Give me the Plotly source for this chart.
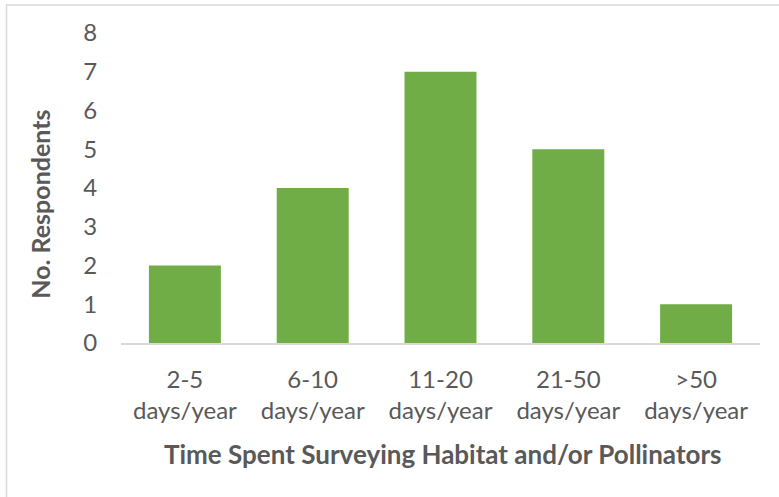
import plotly.graph_objects as go

categories = ["2-5<br>days/year", "6-10<br>days/year", "11-20<br>days/year", "21-50<br>days/year", ">50<br>days/year"]
respondents = [2, 4, 7, 5, 1]
y_ticks = [0, 1, 2, 3, 4, 5, 6, 7, 8]

FONT = "Lato"
TXT = "#595959"
OFF = 0  # body margin removed via post_script

fig = go.Figure(go.Bar(x=categories, y=respondents, marker=dict(color="#70AD47", line=dict(width=0)), width=0.563))

W, H = 779, 497
# target screen coordinates
SL, SR, ST, SB = 121, 760, 33, 343.5
L = SL - OFF
R = W - (SR - OFF)
T = ST - OFF
B = H - (SB - OFF)
pw, ph = W - L - R, H - T - B


def px_x(sx):
    return (sx - SL) / pw


def px_y(sy):
    return (SB - sy) / ph


fig.update_layout(
    width=W, height=H,
    margin=dict(l=L, r=R, t=T, b=B),
    paper_bgcolor="white", plot_bgcolor="white",
    font=dict(family=FONT, size=24, color=TXT),
    showlegend=False,
    bargap=0.437,
)
fig.update_xaxes(showline=True, linecolor="#D9D9D9", linewidth=1.5, showgrid=False,
                 ticks="outside", ticklen=14, tickcolor="rgba(0,0,0,0)",
                 tickfont=dict(family=FONT, size=24, color=TXT))
fig.update_yaxes(range=[0, 8], tickvals=y_ticks, showgrid=False, zeroline=False, showline=False,
                 ticks="outside", ticklen=18, tickcolor="rgba(0,0,0,0)",
                 tickfont=dict(family=FONT, size=24, color=TXT))

fig.add_annotation(text="<b>Time Spent Surveying Habitat and/or Pollinators</b>",
                   xref="paper", yref="paper", x=px_x(442.5), y=px_y(455),
                   showarrow=False, font=dict(family=FONT, size=26, color=TXT),
                   xanchor="center", yanchor="middle")
fig.add_annotation(text="<b>No. Respondents</b>",
                   xref="paper", yref="paper", x=px_x(40), y=px_y(205),
                   showarrow=False, textangle=-90, font=dict(family=FONT, size=25, color=TXT),
                   xanchor="center", yanchor="middle")

fig.add_shape(type="rect", xref="paper", yref="paper",
              x0=px_x(6.5), x1=px_x(W + 20),
              y0=px_y(H + 20), y1=px_y(5),
              line=dict(color="#D9D9D9", width=1.5), fillcolor="rgba(0,0,0,0)", layer="below")

fig.write_html("out.html", config={"displayModeBar": False},
               post_script="document.body.style.margin='0px';")
